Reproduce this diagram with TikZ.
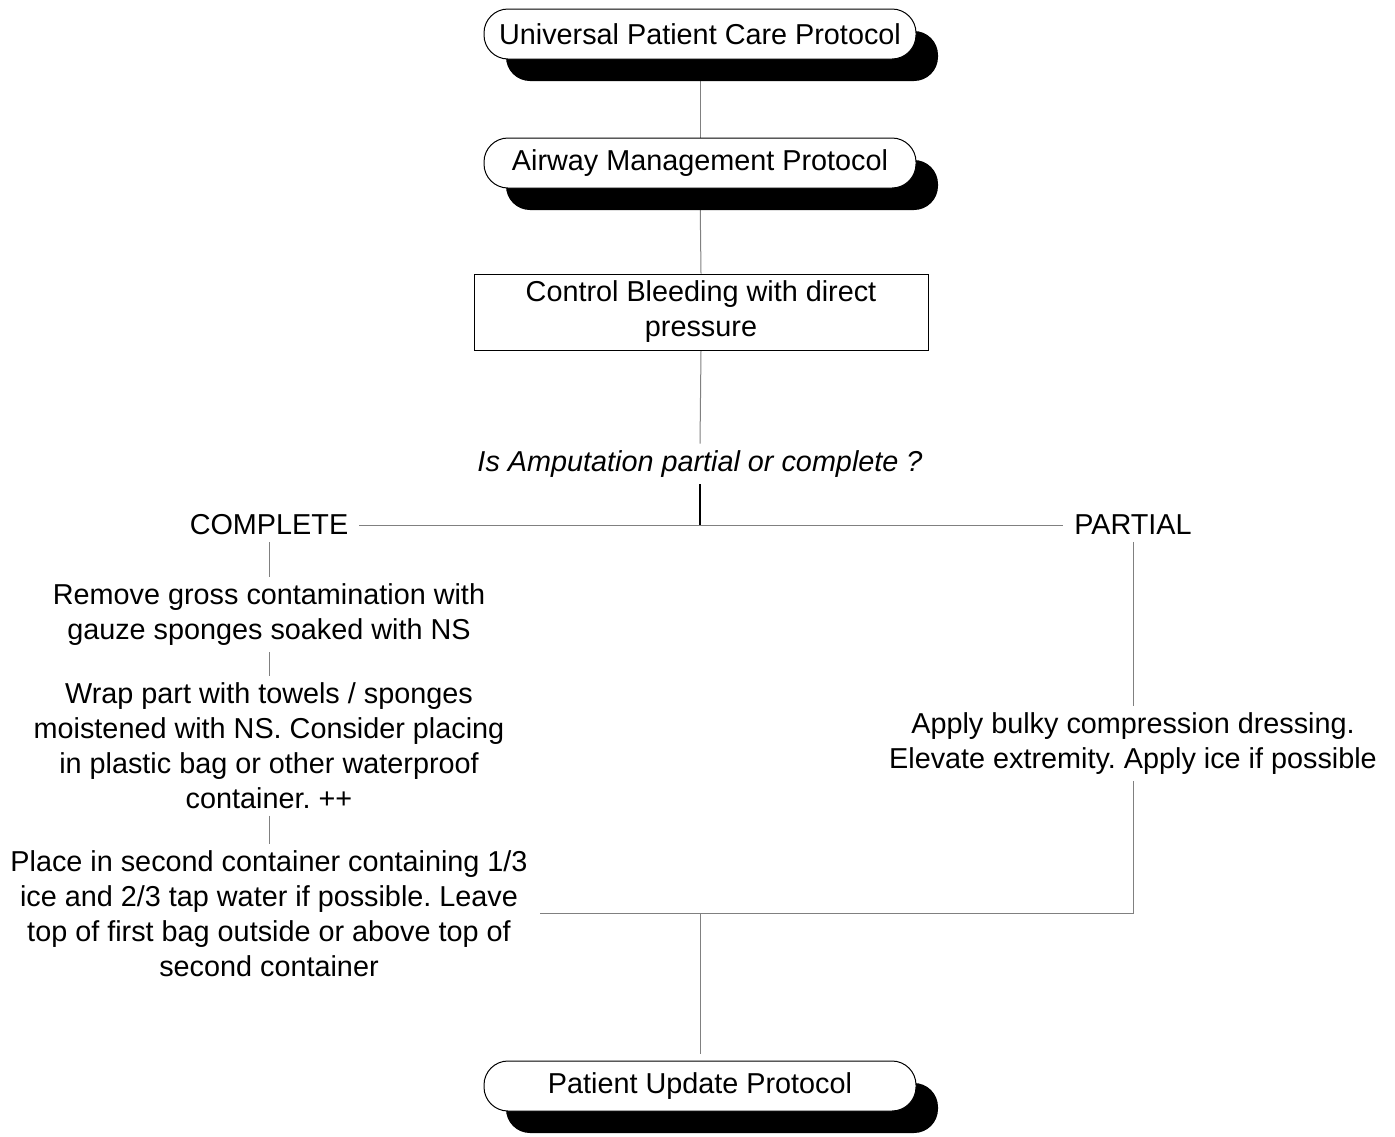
\documentclass[tikz,border=0pt]{standalone}
\usepackage{fontspec}
\setmainfont{Liberation Sans}
\usetikzlibrary{shadows,backgrounds,calc}
\definecolor{linegray}{gray}{0.5}
\begin{document}
\frenchspacing
\begin{tikzpicture}[x=0.75pt,y=-0.75pt,
  every node/.style={font=\fontsize{21.6pt}{26.25pt}\selectfont},
  txt/.style={align=center,inner xsep=8pt,inner ysep=5pt},
  protocol/.style={draw=black,line width=0.75pt,fill=white,rounded corners=18pt,
    minimum width=324pt,minimum height=37.5pt,inner sep=0pt,
    drop shadow={shadow xshift=16.5pt,shadow yshift=-16.5pt,opacity=1,fill=black}},
  stepbox/.style={draw=black,line width=0.75pt,fill=white,
    minimum width=340.5pt,minimum height=57pt,align=center,inner sep=0pt},
  link/.style={draw=linegray,line width=0.75pt},
  stem/.style={draw=black,line width=1.5pt}]
\useasboundingbox (0,0) rectangle (1395,1136);

% protocol boxes and steps
\node[protocol] (u) at (700,34) {Universal Patient Care Protocol};
\node[protocol] (a) at (700,163) {Airway Management Protocol};
\node[stepbox] (c) at (701,312) {Control Bleeding with direct\\pressure};
\node[txt,font=\fontsize{21.6pt}{26.25pt}\selectfont\itshape] (q) at (700,464) {Is Amputation partial or complete ?};

% branches
\node[txt] (comp) at (269,525) {COMPLETE};
\node[txt] (part) at (1133,525) {PARTIAL};
\node[txt] (r1) at (269,614.5) {Remove gross contamination with\\gauze sponges soaked with NS};
\node[txt] (r2) at (269,745.5) {Wrap part with towels / sponges\\moistened with NS. Consider placing\\in plastic bag or other waterproof\\container. ++};
\node[txt,inner xsep=9pt] (r3) at (269,913.5) {Place in second container containing 1/3\\ice and 2/3 tap water if possible. Leave\\top of first bag outside or above top of\\second container};
\node[txt] (p) at (1133,743.5) {Apply bulky compression dressing.\\Elevate extremity. Apply ice if possible};

\node[protocol] (pu) at (700,1086) {Patient Update Protocol};

% connectors
\coordinate (fork) at (q.south |- comp.east);
\coordinate (merge) at (pu.north |- r3.east);
\begin{pgfonlayer}{background}
  \draw[link] (u.south) -- (a.north);
  \draw[link] (a.south) -- (c.north);
  \draw[link] (c.south) -- (q.north);
  \draw[stem] (q.south) -- (fork);
  \draw[link] (comp.east) -- (part.west);
  \draw[link] (comp.south) -- (r1.north);
  \draw[link] (r1.south) -- (r2.north);
  \draw[link] (r2.south) -- (r3.north);
  \draw[link] (part.south) -- (p.north);
  \draw[link] (p.south) |- (r3.east);
  \draw[link,shorten >=5pt] (merge) -- (pu.north);
\end{pgfonlayer}
\end{tikzpicture}
\end{document}
